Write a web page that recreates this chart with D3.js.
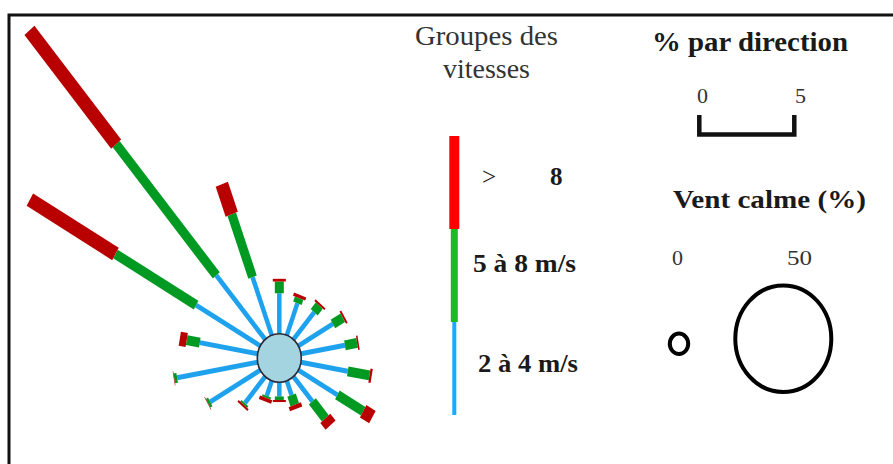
<!DOCTYPE html>
<html><head><meta charset="utf-8">
<script src="https://cdn.jsdelivr.net/npm/d3@7"></script>
<style>html,body{margin:0;padding:0;background:#fff;}svg{display:block;}</style>
</head><body>
<svg id="chart" width="893" height="464"></svg>
<script>
// Directions (degrees clockwise from north)
const directions = [0,20,40,60,80,100,120,140,160,180,200,220,240,260,280,300,320,340];
// Frequency (%) per direction for each speed class
const speed2to4 = [1.94,1.63,1.70,2.10,2.35,2.50,2.37,1.55,0.73,0.68,0.77,1.66,3.04,4.30,3.09,3.90,4.00,2.96];
const speed5to8 = [0.56,0.26,0.42,0.60,0.65,1.16,1.57,1.06,0.49,0.17,0.10,0.10,0.13,0.16,0.70,4.90,8.20,3.20];
const speedOver8 = [0.13,0.16,0.10,0.10,0.08,0.12,0.56,0.43,0.21,0.10,0.18,0.10,0.03,0.02,0.37,5.20,7.10,1.53];
const calmPct = 16.5;
const classLabels = ["2 à 4 m/s","5 à 8 m/s","8"];
const scaleTicks = [0,5];
const calmTicks = [0,50];

const svg = d3.select("#chart");
const font = "'Liberation Serif','Times New Roman',serif";

// frame
svg.append("rect").attr("x",9).attr("y",15).attr("width",900).attr("height",470)
  .attr("fill","none").attr("stroke","#111").attr("stroke-width",3);

const cx = 279.3, cy = 358, stretch = 1.1;
const rScale = d3.scaleLinear().domain([0,5]).range([0,95]);
const calmScale = d3.scaleLinear().domain([0,50]).range([9.2,48]);
const r0 = calmScale(calmPct);

const colors = ["#1ea2ee","#009a22","#b80000"];
const widths = [4.5,9,13];

const rose = svg.append("g").attr("transform",`translate(${cx},${cy}) scale(1,${stretch})`);
directions.forEach((dir,i)=>{
  const vals = [speed2to4[i],speed5to8[i],speedOver8[i]];
  const g = rose.append("g").attr("transform",`rotate(${dir})`);
  let acc = 0;
  vals.forEach((v,k)=>{
    const inner = r0 + rScale(acc), outer = r0 + rScale(acc+v);
    g.append("rect").attr("x",-widths[k]/2).attr("y",-outer)
      .attr("width",widths[k]).attr("height",Math.max(outer-inner,0.5))
      .attr("fill",colors[k]);
    acc += v;
  });
});
svg.append("ellipse").attr("cx",cx).attr("cy",cy).attr("rx",r0).attr("ry",r0*stretch)
  .attr("fill","#a4d4e0").attr("stroke","#2a2a3a").attr("stroke-width",1.6);

// speed legend
const txt = (x,y,s,size,weight,len)=>{
  const t = svg.append("text").attr("x",x).attr("y",y).text(s)
    .attr("font-family",font).attr("font-size",size).attr("font-weight",weight).attr("fill","#1a1a1a");
  if(len) t.attr("textLength",len).attr("lengthAdjust","spacingAndGlyphs");
  return t;
};
txt(415,45,"Groupes des",27,"normal",143).attr("fill","#333");
txt(443,78,"vitesses",27,"normal",87).attr("fill","#333");

const legY = d3.scaleLinear().domain([0,3]).range([415,136]);
const legColors = ["#1aaaff","#1cbb22","#ff0000"];
const legWidths = [4,7,10];
[0,1,2].forEach(k=>{
  svg.append("rect").attr("x",454.3-legWidths[k]/2).attr("y",legY(k+1))
    .attr("width",legWidths[k]).attr("height",legY(k)-legY(k+1)).attr("fill",legColors[k]);
});
txt(482,185,">",25,"normal");
txt(550,185,classLabels[2],25,"bold");
txt(473,272,classLabels[1],25,"bold",103);
txt(478,372,classLabels[0],25,"bold",100);

// % par direction scale
txt(652,51,"% par direction",27,"bold",196);
const bx0 = 699.3;
const bracket = d3.path();
bracket.moveTo(bx0+rScale(scaleTicks[0]),115);
bracket.lineTo(bx0+rScale(scaleTicks[0]),134.5);
bracket.lineTo(bx0+rScale(scaleTicks[1]),134.5);
bracket.lineTo(bx0+rScale(scaleTicks[1]),115);
svg.append("path").attr("d",bracket.toString()).attr("fill","none")
  .attr("stroke","#111").attr("stroke-width",4.5).attr("stroke-linejoin","miter");
txt(697,103,String(scaleTicks[0]),22,"normal").attr("fill","#333");
txt(795,103,String(scaleTicks[1]),22,"normal").attr("fill","#333");

// calm legend
txt(673,208,"Vent calme (%)",25,"bold",193);
txt(672,265,String(calmTicks[0]),22,"normal").attr("fill","#333");
txt(787,265,String(calmTicks[1]),22,"normal",25).attr("fill","#333");
const calmCircles = [{v:calmTicks[0],x:679,y:343.8},{v:calmTicks[1],x:783.3,y:338.7}];
calmCircles.forEach(c=>{
  const r = calmScale(c.v);
  svg.append("ellipse").attr("cx",c.x).attr("cy",c.y).attr("rx",r).attr("ry",r*1.11)
    .attr("fill","none").attr("stroke","#000").attr("stroke-width",4);
});
</script>
</body></html>
